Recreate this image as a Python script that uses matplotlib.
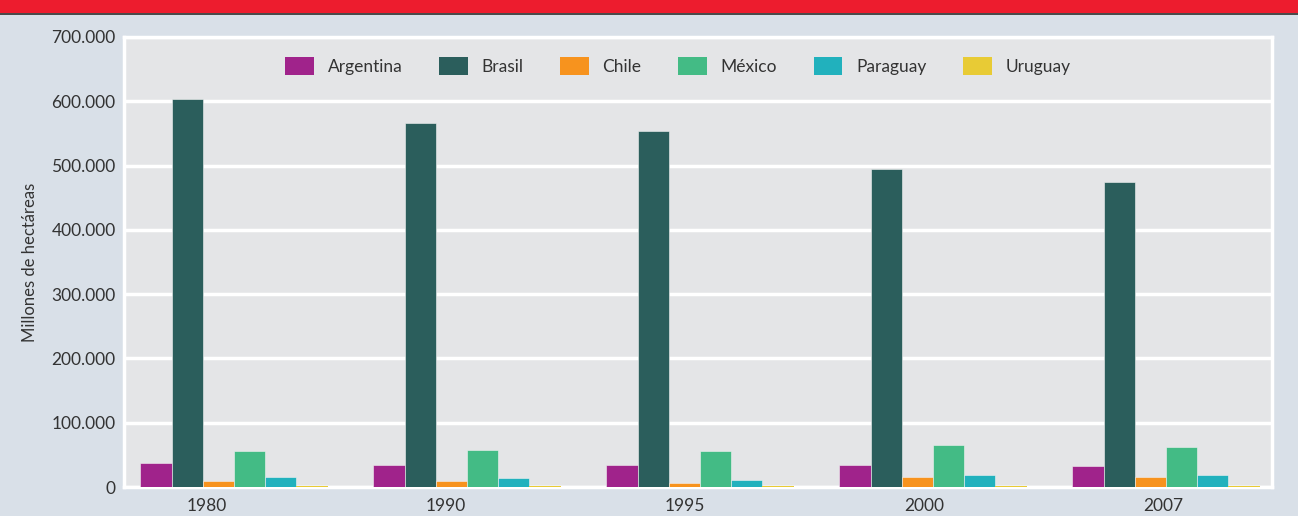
import matplotlib
matplotlib.use("Agg")
import matplotlib.pyplot as plt
import numpy as np
from matplotlib.patches import Rectangle
from matplotlib.ticker import FuncFormatter

years = ["1980", "1990", "1995", "2000", "2007"]
countries = ["Argentina", "Brasil", "Chile", "México", "Paraguay", "Uruguay"]
argentina = [37300, 34500, 34000, 35000, 33000]
brasil = [603500, 566000, 554000, 494500, 474000]
chile = [9300, 9000, 6500, 16000, 16000]
mexico = [56000, 57500, 56000, 65000, 63000]
paraguay = [16000, 14000, 11500, 18500, 18500]
uruguay = [1000, 1000, 1000, 2300, 2300]
series = [argentina, brasil, chile, mexico, paraguay, uruguay]
colors = ["#a0238b", "#2b5e5c", "#f7931e", "#43bb85", "#21b1bd", "#e8cb35"]
yticks = [0, 100000, 200000, 300000, 400000, 500000, 600000, 700000]

plt.rcParams['font.family'] = ['Lato', 'DejaVu Sans']
fig = plt.figure(figsize=(12.98, 5.16), dpi=100)
fig.patch.set_facecolor("#d9e0e8")

# red header band
fig.patches.append(Rectangle((0, 1 - 13 / 516), 1, 13 / 516, transform=fig.transFigure,
                             facecolor="#ed1c2e", edgecolor="none", zorder=0))
fig.patches.append(Rectangle((0, 1 - 15 / 516), 1, 2 / 516, transform=fig.transFigure,
                             facecolor="#4a4a4a", edgecolor="none", zorder=0))

ax = fig.add_axes([124 / 1298, 1 - 487 / 516, (1272 - 124) / 1298, (487 - 37) / 516])
ax.set_facecolor("#e4e5e7")

x = np.arange(len(years))
w = 0.134
n = len(series)
for k, (vals, c, name) in enumerate(zip(series, colors, countries)):
    off = (k - (n - 1) / 2) * w
    ax.bar(x + off, vals, width=w, color=c,
           edgecolor="#f2f2f2" if k < n - 1 else "none", linewidth=0.4,
           label=name, zorder=3)

ax.set_ylim(0, 700000)
ax.set_xlim(-0.472, 4.455)
ax.set_yticks(yticks)
ax.yaxis.set_major_formatter(FuncFormatter(lambda v, p: f"{int(v):,}".replace(",", ".")))
ax.set_xticks(x * 1.0258 - 0.116)
ax.set_xticklabels(years)
ax.grid(axis="y", color="white", linewidth=2.5, zorder=1)
ax.set_axisbelow(True)
for s in ax.spines.values():
    s.set_color("white")
    s.set_linewidth(2.5)
ax.tick_params(length=0, labelsize=12.5, colors="#333333", pad=6)
ax.tick_params(axis="x", pad=8)
ax.set_ylabel("Millones de hectáreas", fontsize=12, color="#333333", labelpad=10)

leg = ax.legend(loc="upper center", bbox_to_anchor=(0.4825, 0.99), ncol=6, frameon=False,
                fontsize=12.5, handlelength=1.65, handleheight=1.2, columnspacing=2.1,
                handletextpad=0.8, labelcolor="#333333")
for h in leg.legend_handles:
    h.set_edgecolor("none")

fig.savefig("out.png", dpi=100, facecolor=fig.get_facecolor())
